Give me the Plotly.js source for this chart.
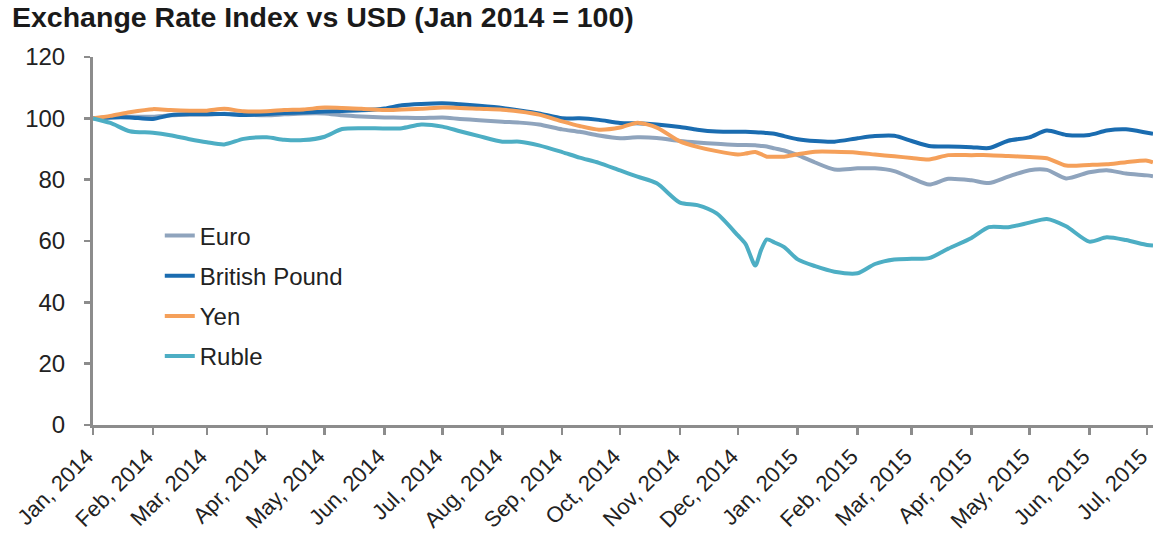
<!DOCTYPE html>
<html>
<head>
<meta charset="utf-8">
<script src="https://cdn.plot.ly/plotly-3.0.1.min.js"></script>
<style>html,body{margin:0;padding:0;background:#fff;}#chart{width:1157px;height:550px;}</style>
</head>
<body>
<div id="chart"></div>
<script>
const dates = ["2014-01-01","2014-01-10","2014-01-20","2014-02-01","2014-02-10","2014-02-20","2014-03-01","2014-03-10","2014-03-20","2014-04-01","2014-04-10","2014-04-20","2014-05-01","2014-05-10","2014-05-20","2014-06-01","2014-06-10","2014-06-20","2014-07-01","2014-07-10","2014-07-20","2014-08-01","2014-08-10","2014-08-20","2014-09-01","2014-09-10","2014-09-20","2014-10-01","2014-10-10","2014-10-20","2014-11-01","2014-11-10","2014-11-20","2014-12-01","2014-12-05","2014-12-10","2014-12-13","2014-12-16","2014-12-20","2014-12-25","2015-01-01","2015-01-10","2015-01-20","2015-02-01","2015-02-10","2015-02-20","2015-03-01","2015-03-10","2015-03-20","2015-04-01","2015-04-10","2015-04-20","2015-05-01","2015-05-10","2015-05-20","2015-06-01","2015-06-10","2015-06-20","2015-07-01","2015-07-04"];

const euro = [100,100.3,100.5,100.5,101,101.2,101.2,101.5,101.2,101,101.3,101.6,101.6,101,100.6,100.3,100.2,100.1,100.3,99.8,99.4,98.9,98.6,98,96.4,95.6,94.4,93.5,93.8,93.6,92.6,92.1,91.7,91.3,91.3,91.2,91,90.8,90.2,89.5,88,85.6,83.3,83.7,83.7,82.8,80.5,78.4,80.3,79.8,78.9,81,83.1,83.2,80.4,82.4,83.1,82,81.4,81.1];

const pound = [100,100.3,100.3,99.8,101,101.4,101.4,101.4,101.1,101.4,101.7,101.9,102.2,102.4,102.6,103.2,104.3,104.7,104.9,104.6,104.1,103.4,102.6,101.6,100,100,99.5,98.5,98.4,98,97.2,96.3,95.7,95.6,95.6,95.5,95.4,95.2,95,94.2,93.2,92.6,92.4,93.5,94.2,94.3,92.6,91,90.8,90.6,90.3,92.7,93.8,96,94.6,94.6,96,96.4,95.3,95];

const yen = [100,100.8,102,103,102.7,102.5,102.5,103.1,102.3,102.3,102.7,102.9,103.5,103.4,103.1,102.7,102.9,103.1,103.5,103.4,103.1,102.8,102.2,101.2,99,97.5,96.3,97,98.6,97,92.5,90.7,89.3,88.2,88.5,89,88.3,87.5,87.5,87.5,88.3,89.1,89.1,88.8,88.2,87.6,87.1,86.6,88,88,88,87.7,87.4,87,84.6,84.8,85,85.7,86.2,85.6];

const ruble = [100,98.5,95.8,95.3,94.5,93.2,92.2,91.5,93.3,93.8,93,92.9,94,96.5,96.8,96.7,96.8,98,97.3,95.8,94.2,92.4,92.4,91.2,89,87.2,85.5,83,81,78.8,72.5,71.7,69,61.8,59,52,57,60.5,59.5,58,54,51.8,50,49.5,52.5,54,54.2,54.4,57.5,61,64.5,64.5,66,67.2,64.8,59.8,61.2,60.3,58.7,58.5];

const seriesNames = ["Euro","British Pound","Yen","Ruble"];
const seriesColors = ["#8FA4BD","#1A6CB0","#F5A05A","#4DAEC4"];
const seriesValues = [euro, pound, yen, ruble];

const tickDates = ["2014-01-01","2014-02-01","2014-03-01","2014-04-01","2014-05-01","2014-06-01","2014-07-01","2014-08-01","2014-09-01","2014-10-01","2014-11-01","2014-12-01","2015-01-01","2015-02-01","2015-03-01","2015-04-01","2015-05-01","2015-06-01","2015-07-01"];
const tickLabels = ["Jan, 2014","Feb, 2014","Mar, 2014","Apr, 2014","May, 2014","Jun, 2014","Jul, 2014","Aug, 2014","Sep, 2014","Oct, 2014","Nov, 2014","Dec, 2014","Jan, 2015","Feb, 2015","Mar, 2015","Apr, 2015","May, 2015","Jun, 2015","Jul, 2015"];

const traces = seriesNames.map((n, i) => ({
  type: "scatter", mode: "lines", name: n, x: dates, y: seriesValues[i],
  legendgroup: "g" + i,
  line: {color: seriesColors[i], width: 4, shape: "spline", smoothing: 0.7}
}));

const axisColor = "#8C8C8C";
const layout = {
  width: 1157, height: 550,
  margin: {l: 93, r: 4, t: 57, b: 125},
  paper_bgcolor: "#fff", plot_bgcolor: "#fff",
  font: {family: "Liberation Sans, Arial, sans-serif", color: "#222", size: 23},
  title: {
    text: "Exchange Rate Index vs USD (Jan 2014 = 100)",
    font: {family: "Liberation Sans, Arial, sans-serif", size: 28.5, color: "#1a1a1a", weight: "bold"},
    xref: "container", x: 12/1157, xanchor: "left",
    yref: "container", y: 1 - 7/550, yanchor: "top"
  },
  showlegend: true,
  legend: {
    x: 0.063, y: 0.575, xanchor: "left", yanchor: "top",
    bgcolor: "rgba(0,0,0,0)", traceorder: "grouped", tracegroupgap: 6,
    font: {size: 24, color: "#222"}
  },
  xaxis: {
    type: "date", range: ["2014-01-01", "2015-07-04"],
    tickmode: "array", tickvals: tickDates, ticktext: tickLabels,
    tickangle: -45, tickfont: {size: 22, color: "#222"},
    ticklabeloverflow: "allow", ticklabelshift: -6,
    showline: true, linecolor: axisColor, linewidth: 3,
    ticks: "outside", ticklen: 7, tickwidth: 2.5, tickcolor: axisColor,
    showgrid: false, zeroline: false, fixedrange: true
  },
  yaxis: {
    range: [0, 120], tickmode: "linear", tick0: 0, dtick: 20,
    tickfont: {size: 24, color: "#222"},
    showline: true, linecolor: axisColor, linewidth: 3,
    ticks: "outside", ticklen: 6, tickwidth: 2.5, tickcolor: axisColor,
    ticklabelstandoff: 14,
    showgrid: false, zeroline: false, fixedrange: true
  }
};

Plotly.newPlot("chart", traces, layout, {displayModeBar: false, staticPlot: true});
</script>
</body>
</html>
